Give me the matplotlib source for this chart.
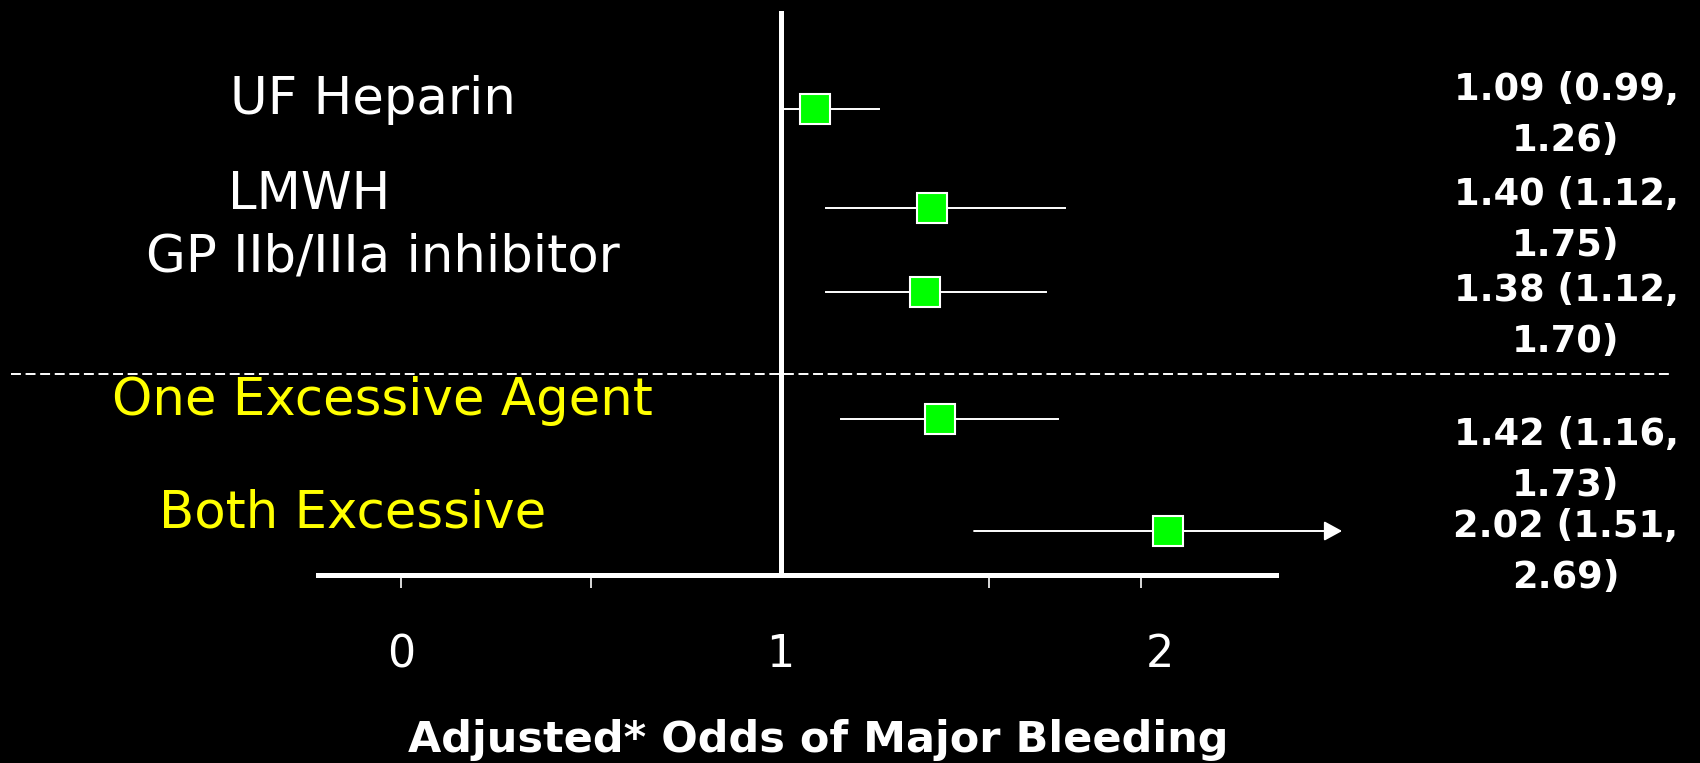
import matplotlib
matplotlib.use("Agg")
import matplotlib.pyplot as plt

# ---- data ----
categories = ["UF Heparin", "LMWH", "GP IIb/IIIa inhibitor",
              "One Excessive Agent", "Both Excessive"]
odds = [1.09, 1.40, 1.38, 1.42, 2.02]
ci_low = [0.99, 1.12, 1.12, 1.16, 1.51]
ci_high = [1.26, 1.75, 1.70, 1.73, 2.69]
label_colors = ["white", "white", "white", "yellow", "yellow"]
tick_values = [0, 1, 2]
minor_ticks = [0, 0.5, 1.55, 1.95]
xlabel = "Adjusted* Odds of Major Bleeding"

# ---- layout (pixels of the 1700x763 canvas) ----
W, H = 1700, 763
row_y = [109, 208, 292, 419, 531]          # row centres
label_x = [230, 228, 146, 112, 159]        # left edge of row labels
label_y = [100, 195, 258, 401, 514]
annot_y = [115, 220, 316, 460, 552]
annot_x = 1566
split_y = 374                              # dashed separator
ARROW_LIMIT = 2.48                         # where a truncated CI is drawn to
AX_LEFT, AX_RIGHT, AX_TOP, AX_BOTTOM = 318, 1276, 11, 575
X0_PX, X2_PX = 401, 1160                   # pixel position of x=0 and x=2


def fx(px):
    return px / W


def fy(py):
    return 1 - py / H


fig = plt.figure(figsize=(17, 7.63), dpi=100, facecolor="black")
ax = fig.add_axes([fx(AX_LEFT), fy(AX_BOTTOM),
                   (AX_RIGHT - AX_LEFT) / W, (AX_BOTTOM - AX_TOP) / H])
ax.set_facecolor("black")

unit = (X2_PX - X0_PX) / 2.0
ax.set_xlim((AX_LEFT - X0_PX) / unit, (AX_RIGHT - X0_PX) / unit)
ax.set_ylim(AX_BOTTOM, AX_TOP)

for s in ["top", "right", "left"]:
    ax.spines[s].set_visible(False)
ax.spines["bottom"].set_color("white")
ax.spines["bottom"].set_linewidth(3.6)
ax.set_yticks([])

ax.xaxis.remove_overlapping_locs = False
ax.set_xticks(tick_values)
ax.set_xticklabels([str(t) for t in tick_values])
ax.set_xticks(minor_ticks, minor=True)
ax.tick_params(axis="x", which="major", length=0, pad=42,
               labelsize=32, labelcolor="white")
ax.tick_params(axis="x", which="minor", length=9, width=1.2,
               color="white", direction="out")

# reference line at odds = 1
ax.axvline(1, color="white", lw=3.6, zorder=2)

for i in range(len(categories)):
    y = row_y[i]
    lo = max(ci_low[i], 1.0)
    hi = ci_high[i]
    if hi > ARROW_LIMIT:
        ax.annotate("", xy=(ARROW_LIMIT, y), xytext=(lo, y),
                    arrowprops=dict(arrowstyle="-|>,head_length=1.1,head_width=0.6",
                                    color="white", lw=1.4, shrinkA=0, shrinkB=0),
                    annotation_clip=False, zorder=3)
    else:
        ax.plot([lo, hi], [y, y], color="white", lw=1.4, zorder=3)
    ax.plot(odds[i], y, marker="s", ms=21, mfc="#00ff00", mec="white",
            mew=1.5, zorder=4, clip_on=False)

    fig.text(fx(label_x[i]), fy(label_y[i]), categories[i], color=label_colors[i],
             fontsize=37, ha="left", va="center")
    fig.text(fx(annot_x), fy(annot_y[i]),
             f"{odds[i]:.2f} ({ci_low[i]:.2f},\n{ci_high[i]:.2f})",
             color="white", fontsize=26.5, fontweight="bold",
             ha="center", va="center", multialignment="center", linespacing=1.45)

# dashed separator between single agents and combinations
fig.add_artist(plt.Line2D([fx(11), fx(1673)], [fy(split_y), fy(split_y)],
                          color="white", lw=1.4, linestyle=(0, (5.1, 2.4))))

fig.text(fx(818), fy(740), xlabel, color="white", fontsize=31,
         fontweight="bold", ha="center", va="center")

fig.savefig("out.png", dpi=100, facecolor="black")
